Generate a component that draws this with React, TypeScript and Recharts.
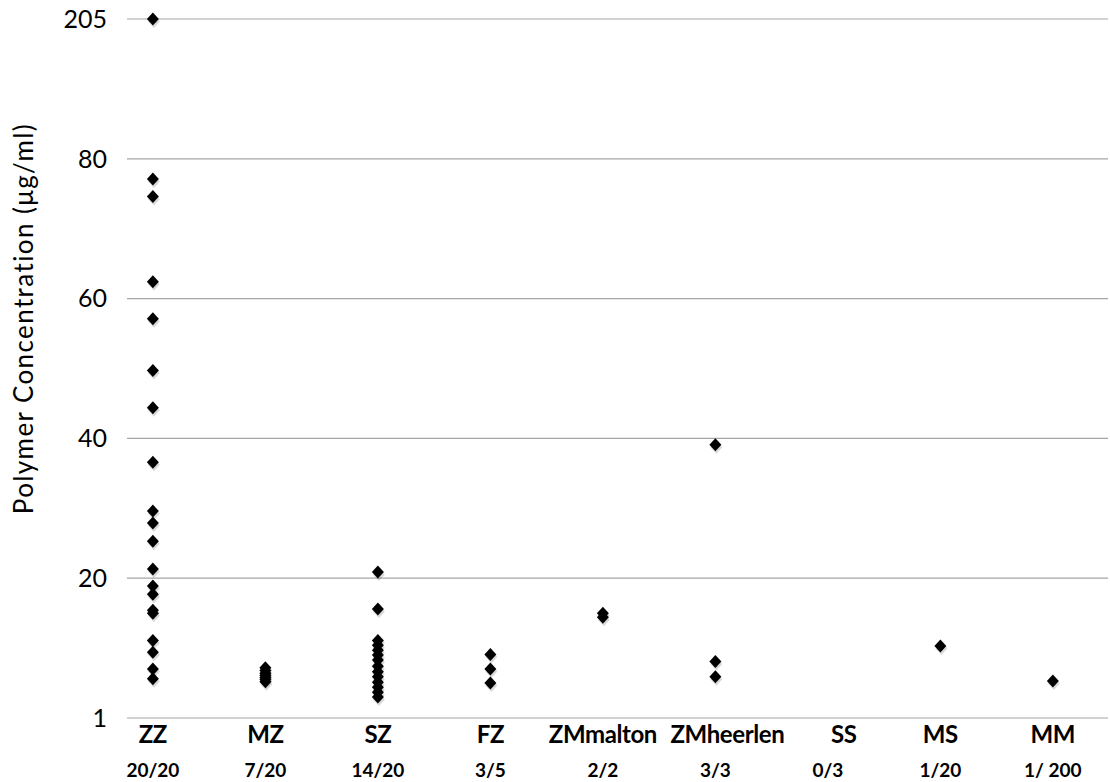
import { ScatterChart, Scatter, XAxis, YAxis, CartesianGrid, Label } from 'recharts';

// groups along the x axis, with the positive/total counts printed under each name
const categories = ['ZZ', 'MZ', 'SZ', 'FZ', 'ZMmalton', 'ZMheerlen', 'SS', 'MS', 'MM'];
const ratios = ['20/20', '7/20', '14/20', '3/5', '2/2', '3/3', '0/3', '1/20', '1/ 200'];

// measured concentrations (µg/ml) per group
const zz = [205, 77.1, 74.6, 62.4, 57.1, 49.7, 44.4, 36.6, 29.6, 27.9, 25.3, 21.3, 18.9, 17.7, 15.4, 15.0, 11.1, 9.4, 7.0, 5.6];
const mz = [7.2, 6.8, 6.4, 6.1, 5.8, 5.5, 5.2];
const sz = [20.9, 15.6, 11.1, 10.4, 9.7, 9.0, 8.3, 7.4, 6.6, 5.9, 5.1, 4.4, 3.7, 3.0];
const fz = [9.1, 7.0, 5.0];
const zmMalton = [15.0, 14.4];
const zmHeerlen = [39.1, 8.1, 5.9];
const ss: number[] = [];
const ms = [10.3];
const mm = [5.3];
const groups = [zz, mz, sz, fz, zmMalton, zmHeerlen, ss, ms, mm];

// axis has a break above 80: the top gridline stands for 205
const yTickLabels = ['1', '20', '40', '60', '80', '205'];
const yTicks = [0, 20, 40, 60, 80, 100];
const toAxis = (v: number) => (v <= 80 ? v : 80 + ((v - 80) * 20) / 125);

const points = groups.flatMap((vals, i) => vals.map((v) => ({ x: i + 1, y: toAxis(v), value: v })));

const FONT = 'Lato, "Open Sans", sans-serif';

const Diamond = (props: any) => {
  const { cx, cy } = props;
  if (cx == null || cy == null) return null;
  const d = `M${cx},${cy - 6.5} L${cx + 6},${cy} L${cx},${cy + 6.5} L${cx - 6},${cy} Z`;
  return (
    <g>
      <path d={d} transform="translate(1,2.5)" fill="#000" opacity={0.15} />
      <path d={d} fill="#000" />
    </g>
  );
};

const CategoryTick = ({ x, y, payload }: any) => {
  const i = Math.round(payload.value) - 1;
  // in the original the long names sit a bit right of their column
  const nudge = i === 5 ? 12 : i === 6 ? 16 : 0;
  return (
    <g>
      <text x={x + nudge} y={y + 25} textAnchor="middle" fontFamily={FONT} fontWeight="bold" fontSize={24} letterSpacing={-0.4} fill="#000">
        {categories[i]}
      </text>
      <text x={x} y={y + 59} textAnchor="middle" fontFamily={FONT} fontWeight="bold" fontSize={19} fill="#000">
        {ratios[i]}
      </text>
    </g>
  );
};

const YTitle = ({ viewBox }: any) => {
  const x = 33;
  const y = viewBox.y + viewBox.height / 2 - 50;
  return (
    <text x={x} y={y} transform={`rotate(-90 ${x} ${y})`} textAnchor="middle" fontFamily={FONT} fontSize={26} letterSpacing={1.4} fill="#000">
      Polymer Concentration (μg/ml)
    </text>
  );
};

export default function App() {
  return (
    <div style={{ position: 'absolute', left: 0, top: 0, background: '#fff' }}>
      <ScatterChart width={1110} height={782} margin={{ top: 19, right: 2, bottom: 0, left: 0 }}>
        <CartesianGrid vertical={false} stroke="#a6a6a6" strokeWidth={1.2} />
        <XAxis
          type="number"
          dataKey="x"
          domain={[0.77, 9.49]}
          ticks={[1, 2, 3, 4, 5, 6, 7, 8, 9]}
          axisLine={false}
          tickLine={false}
          tickSize={0}
          tickMargin={0}
          height={64}
          interval={0}
          tick={<CategoryTick />}
        />
        <YAxis
          type="number"
          dataKey="y"
          domain={[0, 100]}
          ticks={yTicks}
          axisLine={false}
          tickLine={false}
          tickSize={0}
          tickMargin={20}
          width={127}
          interval={0}
          tickFormatter={(v: number) => yTickLabels[yTicks.indexOf(v)]}
          tick={{ fontFamily: FONT, fontSize: 25, fill: '#000' }}
        >
          <Label content={<YTitle />} />
        </YAxis>
        <Scatter data={points} fill="#000" shape={<Diamond />} isAnimationActive={false} />
      </ScatterChart>
    </div>
  );
}
